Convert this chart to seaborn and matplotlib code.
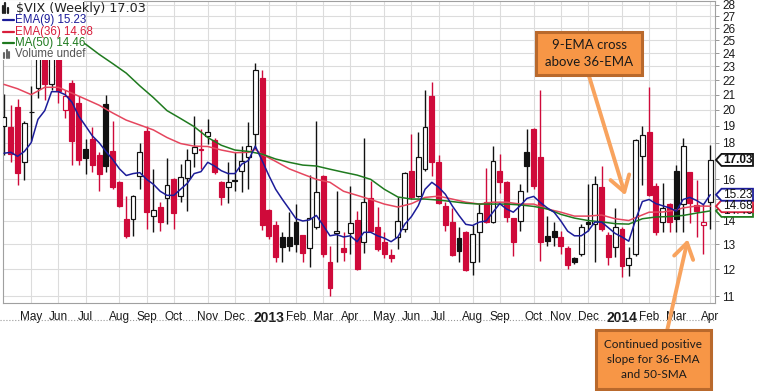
import numpy as np
import pandas as pd
import matplotlib
matplotlib.use("Agg")
import matplotlib.pyplot as plt
import matplotlib.font_manager as fm
from matplotlib.patches import Rectangle, Polygon, FancyArrowPatch
from matplotlib.lines import Line2D
from matplotlib.transforms import IdentityTransform, Bbox
from matplotlib.ticker import NullLocator, FixedLocator
import seaborn as sns

# ---------------- data ----------------
week_start = "2012-04-09"   # Monday of the first weekly bar

opens = [18.96, 18.90, 20.21, 16.90, 19.85, 21.47, 24.00, 21.70, 25.80, 19.96,
         21.80, 20.47, 17.62, 18.19, 17.28, 20.40, 17.51, 15.85, 14.09, 14.09,
         16.17, 18.66, 14.22, 14.64, 15.07, 16.01, 15.16, 16.06, 17.40, 17.62,
         18.37, 18.13, 15.85, 15.60, 15.95, 16.42, 17.17, 18.48, 22.17, 14.50,
         13.82, 13.29, 13.29, 13.95, 13.38, 12.84, 13.73, 16.17, 12.28, 13.46,
         12.84, 13.46, 14.04, 13.08, 15.07, 13.73, 13.08, 12.56, 13.29, 13.64,
         16.42, 15.16, 16.53, 20.94, 16.90, 14.69, 13.95, 13.25, 13.50, 12.28,
         13.50, 14.90, 13.95, 16.42, 15.85, 14.13, 14.00, 17.45, 18.78, 17.17,
         13.32, 13.55, 13.29, 12.84, 12.44, 12.60, 13.95, 13.86, 15.60, 13.38,
         12.88, 13.64, 12.17, 12.60, 17.23, 18.60, 15.65, 13.95, 14.80, 16.42,
         14.78, 16.37, 14.74, 13.82, 14.90]
highs = [21.07, 20.34, 20.73, 19.27, 21.60, 26.00, 24.50, 26.50, 26.20, 21.34,
         22.00, 20.90, 18.19, 18.90, 17.45, 21.00, 19.27, 15.90, 15.16, 15.20,
         18.00, 18.96, 16.53, 14.90, 17.12, 16.05, 16.80, 17.62, 19.58, 18.78,
         19.39, 18.30, 15.90, 16.90, 17.45, 17.79, 19.21, 23.25, 22.75, 14.55,
         14.00, 13.50, 14.41, 14.78, 13.40, 16.22, 19.27, 16.20, 12.92, 15.40,
         13.50, 15.65, 14.46, 18.25, 15.90, 14.64, 13.50, 12.80, 15.11, 16.37,
         18.48, 18.60, 21.34, 21.90, 17.28, 14.90, 14.60, 13.73, 13.55, 13.82,
         14.85, 16.58, 17.79, 17.34, 15.90, 14.15, 15.75, 18.78, 18.85, 21.34,
         14.22, 13.95, 13.55, 12.92, 12.48, 13.86, 15.75, 16.17, 16.70, 13.50,
         14.60, 13.73, 12.88, 18.20, 19.00, 21.54, 15.80, 15.80, 14.85, 16.75,
         18.25, 16.40, 15.95, 14.78, 17.85]
lows = [17.28, 16.90, 15.70, 15.96, 18.07, 20.80, 20.67, 21.30, 20.47, 19.50,
        16.75, 16.75, 16.27, 16.37, 15.40, 16.40, 15.50, 14.64, 13.25, 13.34,
        15.50, 13.64, 13.50, 13.55, 13.86, 13.64, 14.90, 14.46, 16.64, 16.53,
        17.90, 16.30, 14.74, 14.85, 15.40, 15.35, 15.50, 17.62, 13.60, 13.21,
        12.28, 12.28, 12.72, 12.68, 12.28, 12.09, 13.64, 12.48, 11.00, 12.28,
        12.32, 12.60, 11.98, 12.64, 13.50, 12.72, 12.44, 12.28, 12.80, 13.50,
        15.02, 15.10, 16.42, 16.17, 14.80, 13.55, 12.52, 12.28, 11.94, 11.78,
        12.28, 13.90, 13.90, 15.30, 13.95, 12.52, 13.55, 15.35, 15.50, 12.32,
        12.92, 12.92, 12.60, 12.01, 12.20, 12.52, 13.55, 12.28, 13.55, 12.17,
        12.48, 11.70, 11.74, 12.52, 15.70, 15.16, 13.38, 13.50, 13.50, 13.50,
        13.50, 13.90, 13.30, 12.60, 13.64]
closes = [19.55, 17.34, 16.32, 19.15, 19.89, 25.10, 21.70, 26.00, 21.27, 20.94,
          18.07, 17.05, 17.15, 16.75, 16.27, 16.70, 15.60, 14.69, 13.34, 15.16,
          17.45, 14.41, 14.50, 13.95, 15.70, 14.37, 16.11, 17.01, 17.73, 17.56,
          18.60, 16.37, 15.11, 15.85, 15.90, 16.95, 17.79, 22.75, 13.82, 13.34,
          12.48, 12.88, 12.92, 13.00, 12.64, 14.13, 15.35, 12.60, 11.30, 13.55,
          12.68, 13.91, 12.01, 14.90, 13.55, 12.80, 12.60, 12.44, 14.00, 16.32,
          15.11, 17.17, 18.90, 16.90, 14.85, 13.82, 12.56, 12.72, 11.98, 13.42,
          14.37, 13.95, 16.95, 15.85, 14.18, 13.08, 15.40, 16.70, 15.65, 13.08,
          13.12, 13.29, 12.92, 12.17, 12.28, 13.73, 13.86, 15.75, 13.64, 12.48,
          13.73, 12.13, 12.44, 18.13, 18.43, 15.21, 13.50, 14.60, 13.95, 14.09,
          17.79, 14.85, 14.46, 13.95, 17.03]

ema9 = [17.40, 17.45, 17.23, 17.50, 18.00, 19.40, 19.95, 21.20, 21.20, 21.00,
        20.50, 19.60, 19.00, 18.40, 18.00, 17.50, 17.06, 16.55, 16.20, 16.30,
        16.35, 16.00, 15.75, 15.40, 15.20, 15.20, 15.50, 15.80, 16.30, 16.40,
        16.90, 16.70, 16.45, 16.30, 16.30, 16.80, 17.00, 17.80, 17.00, 16.20,
        15.50, 15.00, 14.55, 14.10, 14.00, 14.05, 14.25, 13.80, 13.35, 13.40,
        13.30, 13.35, 13.10, 13.50, 13.50, 13.35, 13.25, 13.10, 13.30, 13.85,
        14.20, 14.70, 15.50, 15.85, 15.60, 15.25, 14.70, 14.25, 13.85, 13.80,
        13.95, 14.00, 14.40, 14.80, 14.55, 14.40, 14.70, 15.05, 15.15, 14.85,
        14.60, 14.40, 14.00, 13.55, 13.35, 13.35, 13.55, 13.95, 13.95, 13.70,
        13.45, 13.30, 13.12, 14.05, 14.90, 15.00, 14.80, 14.70, 14.60, 14.45,
        15.00, 15.10, 14.95, 14.75, 15.23]

ema36_week = [0, 2, 4, 6, 8, 10, 12, 14, 16, 18, 20, 22, 24, 26, 28, 30, 32, 34, 36, 37,
              38, 40, 42, 44, 46, 48, 50, 52, 54, 56, 58, 60, 62, 64, 66, 68, 70, 72, 74, 76,
              78, 80, 82, 84, 86, 88, 90, 92, 93, 95, 97, 99, 100, 102, 104]
ema36_val = [21.7, 21.4, 21.0, 21.5, 21.5, 21.1, 20.7, 20.3, 19.8, 19.35,
             19.05, 18.75, 18.3, 17.95, 17.8, 17.78, 17.58, 17.43, 17.45, 17.62,
             17.34, 16.95, 16.55, 16.27, 16.0, 15.85, 15.4, 15.2, 15.0, 14.78,
             14.64, 14.8, 15.1, 15.16, 15.02, 14.87, 14.78, 14.87, 14.87, 14.78,
             14.78, 14.55, 14.4, 14.22, 14.22, 14.27, 14.1, 14.02, 14.15, 14.4,
             14.41, 14.5, 14.6, 14.69, 14.68]

ma50_week = [11, 12, 14, 16, 18, 20, 22, 24, 26, 28, 30, 32, 34, 36, 38, 40, 42, 44, 46, 48,
             50, 52, 54, 56, 58, 60, 62, 64, 66, 68, 70, 72, 74, 76, 78, 80, 82, 84, 86, 88,
             90, 92, 94, 96, 98, 100, 102, 104]
ma50_val = [24.9, 24.7, 23.9, 23.2, 22.5, 21.6, 20.8, 19.95, 19.45, 18.95,
            18.3, 17.85, 17.58, 17.5, 17.35, 17.08, 16.9, 16.75, 16.7, 16.53,
            16.37, 16.22, 16.0, 15.5, 15.12, 15.02, 15.02, 14.97, 14.9, 14.82,
            14.78, 14.78, 14.78, 14.74, 14.67, 14.55, 14.3, 14.13, 14.02, 13.96,
            13.88, 13.86, 14.1, 14.18, 14.2, 14.25, 14.36, 14.46]

y_ticks = list(range(11, 29))
hidden_tick_labels = [15, 17]      # covered by the value tags in the reference
last_close, last_ema9, last_ema36, last_ma50 = 17.03, 15.23, 14.68, 14.46
title_text = "$VIX (Weekly) 17.03"
legend_rows = ["EMA(9) 15.23", "EMA(36) 14.68", "MA(50) 14.46", "Volume undef"]
note1 = "9-EMA cross\nabove 36-EMA"
note2 = "Continued positive\nslope for 36-EMA\nand 50-SMA"

# ---------------- styling ----------------
sns.set_style("white")
avail = {f.name for f in fm.fontManager.ttflist}
SANS = "Liberation Sans" if "Liberation Sans" in avail else "DejaVu Sans"
NARROW = "Liberation Sans Narrow" if "Liberation Sans Narrow" in avail else SANS
NOTE = "Lato" if "Lato" in avail else SANS
plt.rcParams["font.family"] = [SANS, "DejaVu Sans"]

RED = "#CF0A3A"
BLACK = "#111111"
BLUE = "#1C1C99"
PINK = "#E5465E"
GREEN = "#1F7A1F"
ORANGE = "#F79646"
ORANGE_EDGE = "#B9692C"
ARROW = "#F8A35E"

W, H = 757, 391
fig = plt.figure(figsize=(W / 100, H / 100), dpi=100)
ax = fig.add_axes([3 / W, 1 - 303 / H, 712 / W, 302 / H])

o = np.array(opens); h = np.array(highs); l = np.array(lows); c = np.array(closes)
n = len(c)
x = np.arange(n)
prev = np.r_[c[0], c[:-1]]
up_vs_prev = c >= prev
col = np.where(up_vs_prev, BLACK, RED)
filled = c < o
face = np.where(filled, col, "white")

# wicks and bodies
ax.vlines(x, l, h, colors=col, lw=1.0, zorder=2)
bottom = np.minimum(o, c)
height = np.maximum(np.abs(c - o), 0.02)
ax.bar(x, height, bottom=bottom, width=0.72, color=face, edgecolor=col,
       linewidth=0.85, zorder=3)

# moving averages (seaborn)
sns.lineplot(x=x, y=ema9, ax=ax, color=BLUE, linewidth=1.1, estimator=None, zorder=5)
sns.lineplot(x=ema36_week, y=ema36_val, ax=ax, color=PINK, linewidth=1.1, estimator=None, zorder=4)
sns.lineplot(x=ma50_week, y=ma50_val, ax=ax, color=GREEN, linewidth=1.1, estimator=None, zorder=4)

# axes scales
ax.set_yscale("log")
ax.set_ylim(10.76, 28.36)
ax.set_xlim(-0.15, 104.7)
ax.yaxis.set_major_locator(FixedLocator(y_ticks))
ax.yaxis.set_minor_locator(NullLocator())
ax.set_yticklabels(["" if t in hidden_tick_labels else str(t) for t in y_ticks])
ax.yaxis.tick_right()
ax.tick_params(axis="y", which="major", direction="out", length=3, width=0.6,
               color="#888888", pad=2, labelsize=8.5, labelcolor="#1a1a1a")

weeks = pd.date_range(week_start, periods=n, freq="7D")
month_pos = [i for i in range(1, n) if weeks[i].month != weeks[i - 1].month]
month_lab = [str(weeks[i].year) if weeks[i].month == 1 else weeks[i].strftime("%b")
             for i in month_pos]
ax.set_xticks(month_pos)
ax.set_xticklabels(month_lab)
ax.xaxis.set_minor_locator(FixedLocator(list(x)))
ax.tick_params(axis="x", which="major", length=3, width=0.6, color="#999999",
               pad=3, labelsize=8.5, labelcolor="#1a1a1a")
ax.tick_params(axis="x", which="minor", length=2, width=0.5, color="#bbbbbb")
for t in ax.get_xticklabels():
    t.set_fontfamily(NARROW)
    if t.get_text().isdigit():
        t.set_fontweight("bold")
        t.set_fontsize(10)

ax.grid(True, which="major", color="#DCDCDC", lw=0.8)
ax.set_axisbelow(True)
for s in ax.spines.values():
    s.set_color("#A0A0A0")
    s.set_linewidth(0.8)
ax.set_xlabel("")
ax.set_ylabel("")
if ax.get_legend():
    ax.get_legend().remove()


def fp(px, py):
    return (px / W, 1 - py / H)


# dotted line under the date strip
fig.add_artist(Line2D([0, 715 / W], [1 - 320 / H] * 2, transform=fig.transFigure,
                      ls=":", color="#999999", lw=0.8))

# legend block (white backing + texts)
fig.add_artist(Rectangle(fp(0, 60), 84 / W, 59 / H, transform=fig.transFigure,
                         facecolor="white", edgecolor="none", zorder=5))
for k, hgt in enumerate([7, 10, 5]):
    xx = 2.5 + k * 2.6
    fig.add_artist(Line2D([xx / W] * 2, [1 - 13 / H, 1 - (13 - hgt) / H],
                          transform=fig.transFigure, color="#222222", lw=1.6, zorder=6))
fig.text(*fp(16, 8.5), title_text, fontsize=9.2, family="DejaVu Sans", color="#222222",
         va="center", ha="left", zorder=7)
row_cols = [BLUE, "#D81E3C", GREEN, "#555555"]
row_y = [20, 32, 43, 54]
for txt, cc, yy in zip(legend_rows, row_cols, row_y):
    if txt.startswith("Volume"):
        for k, hgt in enumerate([5, 8, 6]):
            xx = 4 + k * 2.6
            fig.add_artist(Line2D([xx / W] * 2, [1 - (yy + 4) / H, 1 - (yy + 4 - hgt) / H],
                                  transform=fig.transFigure, color="#666666", lw=1.5, zorder=6))
    else:
        fig.add_artist(Line2D([3 / W, 14 / W], [1 - yy / H] * 2, transform=fig.transFigure,
                              color=cc, lw=1.6, zorder=6))
    fig.text(*fp(15, yy), txt, fontsize=8.3, family=SANS, color=cc, va="center",
             ha="left", zorder=7)

# right-side value tags
fig.canvas.draw()
tag_half = 6.0


def tag(value, text, edge, bold=False, clip_top=None):
    yd = ax.transData.transform((0, value))[1]
    pts = [(716, yd), (721.5, yd + tag_half), (753, yd + tag_half),
           (753, yd - tag_half), (721.5, yd - tag_half)]
    fig.add_artist(Polygon(pts, closed=True, transform=IdentityTransform(),
                           facecolor="white", edgecolor=edge, lw=1.3, zorder=8))
    t = fig.text(737.5 / W, yd / H, text, transform=fig.transFigure, ha="center", va="center",
                 fontsize=8.5, family=SANS, fontweight="bold" if bold else "normal",
                 color="#111111", zorder=9)
    if clip_top is not None:
        # only the sliver below the covering tag stays visible
        t.set_clip_box(Bbox([[716, yd - tag_half - 1], [753, clip_top]]))
        t.set_clip_on(True)
    return yd


y36 = ax.transData.transform((0, last_ema36))[1]
tag(last_ma50, f"{last_ma50:.2f}", GREEN, clip_top=y36 - tag_half)
tag(last_ema36, f"{last_ema36:.2f}", "#D81E3C")
tag(last_ema9, f"{last_ema9:.2f}", BLUE)
tag(last_close, f"{last_close:.2f}", "#111111", bold=True)


# annotation boxes and arrows
def note_box(x0, y0, x1, y1, text, fs):
    fig.add_artist(Rectangle((x0, H - y1), x1 - x0, y1 - y0, transform=IdentityTransform(),
                             facecolor=ORANGE, edgecolor=ORANGE_EDGE, lw=2.2, zorder=10))
    fig.text(((x0 + x1) / 2) / W, 1 - ((y0 + y1) / 2) / H, text, ha="center", va="center",
             fontsize=fs, family=NOTE, color="#1a1a1a", linespacing=1.45, zorder=11)


def note_arrow(p0, tip_week, tip_value):
    tx, ty = ax.transData.transform((tip_week, tip_value))
    fig.add_artist(FancyArrowPatch((p0[0], H - p0[1]), (tx, ty), transform=IdentityTransform(),
                                   arrowstyle="->,head_length=0.55,head_width=0.35",
                                   mutation_scale=20, color=ARROW, lw=2.8, zorder=9,
                                   shrinkA=0, shrinkB=0))


note_arrow((589, 76), 91.5, 15.2)
note_arrow((667, 331), 100.7, 13.2)
note_box(536, 32, 642, 75, note1, 9.5)
note_box(596, 330, 711, 389, note2, 8.5)

fig.savefig("out.png", dpi=100)
